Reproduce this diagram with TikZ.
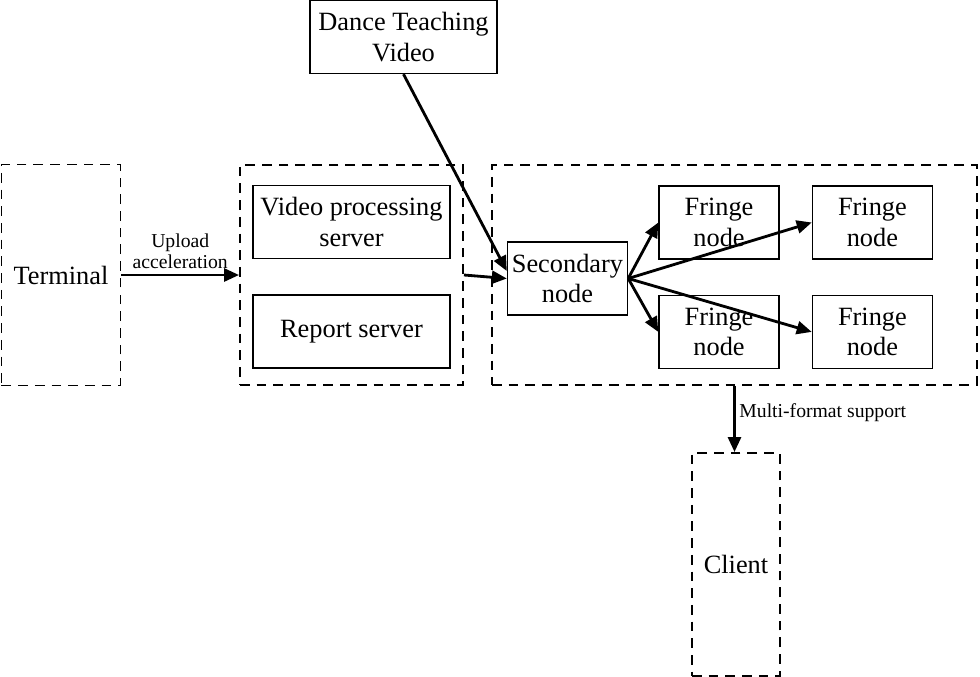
\documentclass[tikz,border=0pt]{standalone}
\usepackage{fontspec}
\setmainfont{Liberation Serif}
\usetikzlibrary{arrows.meta,positioning}
\tikzset{
  box/.style={draw,line width=0.8pt,align=center,minimum width=2.4cm,minimum height=1.46cm,inner sep=1pt,font=\fontsize{15}{17.5}\selectfont},
  grp/.style={draw,line width=1.1pt,dash pattern=on 5.5pt off 4pt,inner sep=0pt,font=\fontsize{15}{17.5}\selectfont},
  arr/.style={-{Triangle[length=3mm,width=2.6mm]},line width=1.6pt},
  lbl/.style={font=\fontsize{11.2}{11.5}\selectfont,align=center,inner sep=1pt}
}
\begin{document}
\begin{tikzpicture}
\useasboundingbox (0,0) rectangle (19.6,-13.54);
% groups
\node[grp,minimum width=2.38cm,minimum height=4.42cm] (term) at (1.22,-5.5) {Terminal};
\node[grp,minimum width=4.46cm,minimum height=4.4cm] (mid) at (7.03,-5.5) {};
\node[grp,minimum width=9.7cm,minimum height=4.4cm] (edge) at (14.69,-5.5) {};
\node[grp,minimum width=1.76cm,minimum height=4.46cm] (client) at (14.72,-11.29) {Client};
% boxes
\node[box,minimum width=3.74cm] (dance) at (8.07,-0.74) {Dance Teaching\\Video};
\node[box,minimum width=3.94cm] (vps) at (7.03,-4.44) {Video processing\\server};
\node[box,minimum width=3.94cm,below=0.7cm of vps] (rep) {Report server};
\node[box] (sec) at (11.35,-5.57) {Secondary\\node};
\node[box] (f1) at (14.38,-4.45) {Fringe\\node};
\node[box,right=0.64cm of f1] (f2) {Fringe\\node};
\node[box,below=0.7cm of f1] (f3) {Fringe\\node};
\node[box,right=0.64cm of f3] (f4) {Fringe\\node};
% connectors
\draw[arr] (term.east) -- node[lbl,above=2pt] {Upload\\acceleration} (mid.west);
\draw[arr] (mid.east) -- (sec.west);
\draw[arr] (dance.south) -- ([yshift=1.5mm]sec.west);
\draw[arr] (sec.east) -- (f1.west);
\draw[arr] (sec.east) -- (f2.west);
\draw[arr] (sec.east) -- (f3.west);
\draw[arr] (sec.east) -- (f4.west);
\draw[arr] (edge.south) -- node[lbl,right=1pt,pos=0.4] {Multi-format support} (edge.south |- client.north);
\end{tikzpicture}
\end{document}
